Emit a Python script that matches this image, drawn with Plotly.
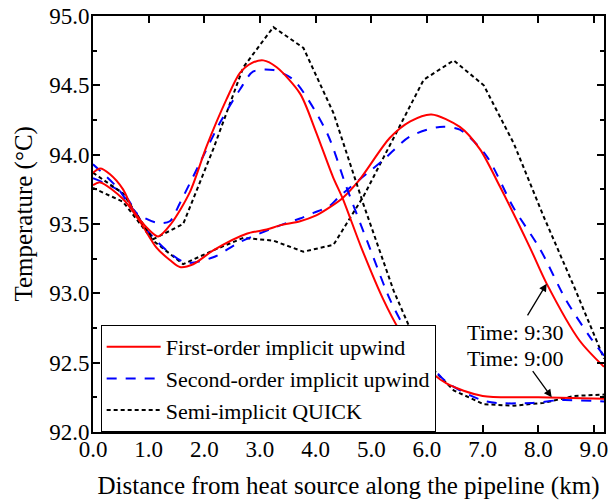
import plotly.graph_objects as go

# ---- data ----
# Time 9:00
x_red_900 = [0, 0.13, 0.30, 0.54, 0.72, 1.0, 1.17, 1.4, 1.74, 2.04, 2.4, 2.64, 2.85, 3.06, 3.3, 3.72, 4.0, 4.31, 4.49, 4.82, 5.21, 5.51, 5.9, 6.35, 7.0, 8.0, 9.18]
y_red_900 = [93.87, 93.90, 93.86, 93.75, 93.60, 93.46, 93.41, 93.50, 93.73, 94.06, 94.40, 94.59, 94.66, 94.68, 94.63, 94.44, 94.17, 93.84, 93.68, 93.33, 92.96, 92.73, 92.50, 92.35, 92.26, 92.25, 92.24]

x_blue_900 = [0, 0.42, 0.78, 1.14, 1.38, 1.56, 1.92, 2.28, 2.64, 2.88, 3.24, 3.6, 4.2, 4.55, 4.97, 5.33, 5.63, 6.0, 6.35, 7.07, 7.9, 8.4, 9.18]
y_blue_900 = [93.93, 93.77, 93.58, 93.51, 93.52, 93.65, 93.94, 94.23, 94.47, 94.60, 94.61, 94.54, 94.16, 93.77, 93.33, 92.96, 92.73, 92.52, 92.36, 92.22, 92.21, 92.23, 92.22]

x_quick = [0, 0.54, 1.08, 1.62, 2.16, 2.70, 3.24, 3.78, 4.32, 4.86, 5.40, 5.94, 6.48, 7.02, 7.56, 8.10, 8.64, 9.18]
y_black_900 = [93.87, 93.72, 93.39, 93.50, 94.04, 94.63, 94.92, 94.77, 94.30, 93.64, 93.02, 92.52, 92.30, 92.20, 92.19, 92.21, 92.26, 92.27]

# Time 9:30
x_red_930 = [0, 0.13, 0.54, 0.84, 1.14, 1.38, 1.56, 1.8, 2.16, 2.76, 3.12, 3.36, 3.72, 4.0, 4.25, 4.49, 4.79, 5.33, 5.7, 6.08, 6.59, 6.95, 7.31, 7.85, 8.15, 8.74, 9.18]
y_red_930 = [93.78, 93.80, 93.68, 93.52, 93.33, 93.24, 93.19, 93.21, 93.31, 93.43, 93.46, 93.49, 93.52, 93.56, 93.62, 93.69, 93.82, 94.12, 94.24, 94.29, 94.20, 94.04, 93.77, 93.33, 93.07, 92.66, 92.47]

x_blue_930 = [0, 0.54, 0.96, 1.38, 1.68, 2.16, 2.64, 3.36, 3.72, 3.96, 4.25, 4.43, 5.21, 5.69, 6.23, 6.59, 7.07, 7.55, 8.03, 8.5, 8.92, 9.18]
y_blue_930 = [93.83, 93.72, 93.46, 93.29, 93.22, 93.26, 93.37, 93.49, 93.54, 93.58, 93.63, 93.70, 93.96, 94.13, 94.20, 94.18, 93.99, 93.62, 93.32, 92.95, 92.69, 92.55]

y_black_930 = [93.76, 93.66, 93.38, 93.21, 93.31, 93.40, 93.38, 93.30, 93.35, 93.70, 94.12, 94.54, 94.68, 94.50, 94.08, 93.55, 93.05, 92.53]

names = ["First-order implicit upwind", "Second-order implicit upwind", "Semi-implicit QUICK"]
x_ticks = [0, 1, 2, 3, 4, 5, 6, 7, 8, 9]
y_ticks = [92.0, 92.5, 93.0, 93.5, 94.0, 94.5, 95.0]

FONT = "Liberation Serif, Times New Roman, serif"

fig = go.Figure()

styles = [
    dict(color="#ff0000", width=2, dash="solid"),
    dict(color="#0000ff", width=2, dash="10px,9px"),
    dict(color="#000000", width=2, dash="4px,3px"),
]
shapes = ["spline", "spline", "linear"]

sets_900 = [(x_red_900, y_red_900), (x_blue_900, y_blue_900), (x_quick, y_black_900)]
sets_930 = [(x_red_930, y_red_930), (x_blue_930, y_blue_930), (x_quick, y_black_930)]

for i in [2, 1, 0]:
    xs, ys = sets_930[i]
    fig.add_trace(go.Scatter(x=xs, y=ys, mode="lines", name=names[i],
                             showlegend=False, line=dict(shape=shapes[i], smoothing=0.8, **styles[i])))
for i in [2, 1, 0]:
    xs, ys = sets_900[i]
    fig.add_trace(go.Scatter(x=xs, y=ys, mode="lines", name=names[i],
                             showlegend=True, legendrank=i + 1,
                             line=dict(shape=shapes[i], smoothing=0.8, **styles[i])))

axis_common = dict(
    showline=True, linecolor="black", linewidth=2, mirror="allticks",
    ticks="inside", tickcolor="black", tickwidth=1.5, ticklen=7,
    showgrid=False, zeroline=False, automargin=False, ticklabeloverflow="allow",
    tickfont=dict(family=FONT, size=23, color="black"),
)

fig.update_xaxes(range=[0, 9.18], tickvals=x_ticks, ticktext=[f"{v:.1f}" for v in x_ticks],
                 ticklabelstandoff=-5,
                 title=dict(text="Distance from heat source along the pipeline (km)",
                            font=dict(family=FONT, size=25, color="black"), standoff=16),
                 **axis_common)
fig.update_yaxes(range=[92, 95], tickvals=y_ticks, ticktext=[f"{v:.1f}" for v in y_ticks],
                 minor=dict(dtick=0.25, ticks="inside", ticklen=4, tickwidth=1.5, tickcolor="black", tick0=92),
                 ticklabelstandoff=-3,
                 **axis_common)

fig.update_layout(
    width=609, height=502,
    margin=dict(l=93, r=5, t=16, b=70),
    plot_bgcolor="white", paper_bgcolor="white",
    font=dict(family=FONT, size=22, color="black"),
    hovermode=False,
    legend=dict(x=0.015, y=0.1286, xanchor="left", yanchor="middle",
                bgcolor="white", bordercolor="black", borderwidth=1,
                font=dict(family=FONT, size=22, color="black"),
                itemwidth=54, tracegroupgap=0, traceorder="normal"),
    showlegend=True,
)

# y-axis title (placed as in the reference, slightly above centre)
fig.add_annotation(xref="paper", yref="paper", x=-0.135, y=0.525, text="Temperature (°C)",
                   textangle=-90, showarrow=False, xanchor="center", yanchor="middle",
                   font=dict(family=FONT, size=25, color="black"))

# annotations: labels and arrows
fig.add_annotation(x=7.58, y=92.72, text="Time: 9:30", showarrow=False,
                   font=dict(family=FONT, size=22, color="black"))
fig.add_annotation(x=7.58, y=92.53, text="Time: 9:00", showarrow=False,
                   font=dict(family=FONT, size=22, color="black"))
fig.add_annotation(x=8.15, y=93.07, ax=7.79, ay=92.83, axref="x", ayref="y", text="",
                   showarrow=True, arrowhead=2, arrowsize=1.2, arrowwidth=1.3, arrowcolor="black", standoff=0)
fig.add_annotation(x=8.24, y=92.25, ax=7.88, ay=92.45, axref="x", ayref="y", text="",
                   showarrow=True, arrowhead=2, arrowsize=1.2, arrowwidth=1.3, arrowcolor="black", standoff=0)

# remove the default page margin so the 609x502 figure fills the window exactly
fig.write_html("out.html",
               config={"displayModeBar": False},
               post_script="document.body.style.margin='0';document.body.style.overflow='hidden';")
